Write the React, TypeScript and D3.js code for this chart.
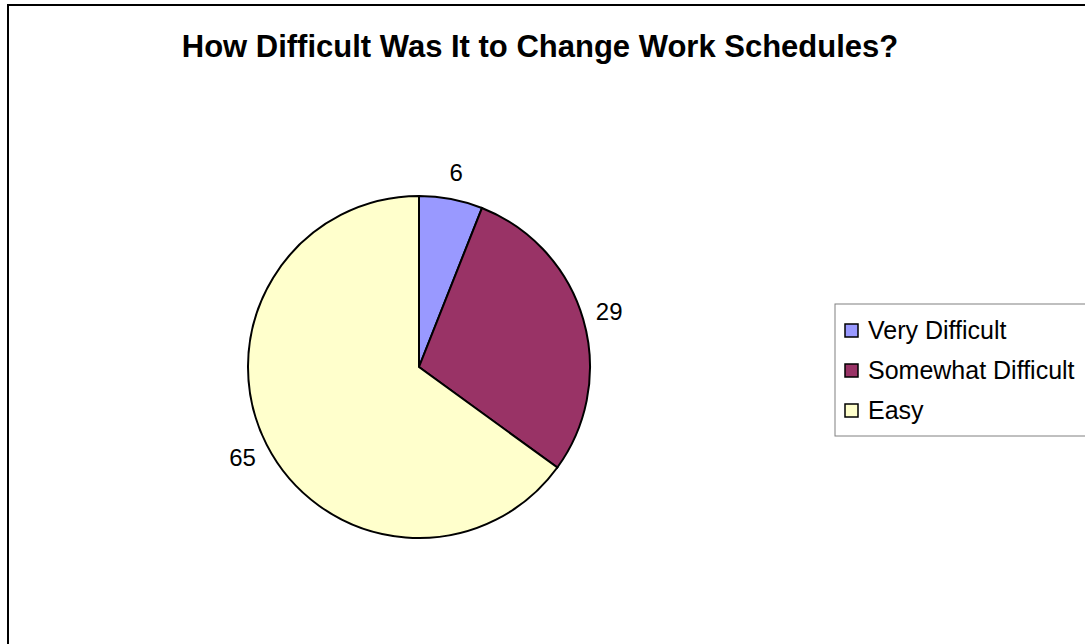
import React, { useEffect, useRef } from 'react'
import * as d3 from 'd3'

// chart data
const categories = ['Very Difficult', 'Somewhat Difficult', 'Easy']
const values = [6, 29, 65]
const colors = ['#9999FF', '#993366', '#FFFFCC']
const title = 'How Difficult Was It to Change Work Schedules?'

const width = 1085
const height = 644

export default function App() {
    const ref = useRef<SVGSVGElement>(null)

    useEffect(() => {
        const svg = d3.select(ref.current)
        svg.selectAll('*').remove()

        const font = '"Liberation Sans", Arial, sans-serif'

        // outer chart frame, runs off the right and bottom edges
        svg.append('rect')
            .attr('x', 8)
            .attr('y', 5)
            .attr('width', width + 20)
            .attr('height', height + 20)
            .attr('fill', 'white')
            .attr('stroke', 'black')
            .attr('stroke-width', 2)

        svg.append('text')
            .attr('x', 540)
            .attr('y', 57)
            .attr('text-anchor', 'middle')
            .style('font-family', font)
            .style('font-weight', 'bold')
            .style('font-size', '31px')
            .text(title)

        const cx = 419, cy = 367, r = 171

        const pie = d3.pie<number>().sort(null).value(d => d)
        const arcs = pie(values)
        const arc = d3.arc<d3.PieArcDatum<number>>().innerRadius(0).outerRadius(r)
        const labelArc = d3.arc<d3.PieArcDatum<number>>().innerRadius(198).outerRadius(198)

        const g = svg.append('g').attr('transform', `translate(${cx},${cy})`)

        g.selectAll('path')
            .data(arcs)
            .enter()
            .append('path')
            .attr('d', arc)
            .attr('fill', (d, i) => colors[i])
            .attr('stroke', 'black')
            .attr('stroke-width', 2)

        g.selectAll('.lbl')
            .data(arcs)
            .enter()
            .append('text')
            .attr('class', 'lbl')
            .attr('x', d => labelArc.centroid(d)[0])
            .attr('y', d => labelArc.centroid(d)[1])
            .attr('dy', '0.36em')
            .attr('text-anchor', 'middle')
            .style('font-family', font)
            .style('font-size', '24px')
            .text(d => d.data)

        // legend
        const lx = 835, ly = 304, rowH = 40
        svg.append('rect')
            .attr('x', lx)
            .attr('y', ly)
            .attr('width', 300)
            .attr('height', rowH * categories.length + 12)
            .attr('fill', 'white')
            .attr('stroke', '#808080')
            .attr('stroke-width', 1)

        const item = svg.selectAll('.legend')
            .data(categories)
            .enter()
            .append('g')
            .attr('class', 'legend')
            .attr('transform', (d, i) => `translate(${lx + 10},${ly + 26 + i * rowH})`)

        item.append('rect')
            .attr('x', 0)
            .attr('y', -6)
            .attr('width', 13)
            .attr('height', 13)
            .attr('fill', (d, i) => colors[i])
            .attr('stroke', 'black')
            .attr('stroke-width', 1.5)

        item.append('text')
            .attr('x', 23)
            .attr('y', 0)
            .attr('dy', '0.36em')
            .style('font-family', font)
            .style('font-size', '25px')
            .text(d => d)
    }, [])

    return (
        <div style={{ position: 'fixed', left: 0, top: 0 }}>
            <svg ref={ref} width={width} height={height} style={{ display: 'block', background: 'white' }} />
        </div>
    )
}
